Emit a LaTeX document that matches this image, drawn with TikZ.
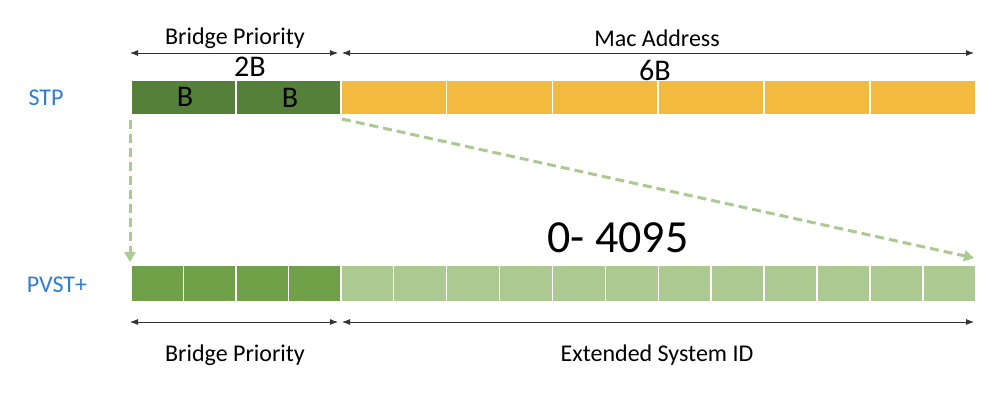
\documentclass[tikz,border=0pt]{standalone}
\usepackage{fontspec}
\setmainfont{Carlito}
\usetikzlibrary{arrows.meta}

\definecolor{stpgreen}{HTML}{55803A}
\definecolor{macyellow}{HTML}{F3BA40}
\definecolor{prigreen}{HTML}{70A148}
\definecolor{extgreen}{HTML}{ABC990}
\definecolor{rowblue}{HTML}{2F7CD3}

\begin{document}
\begin{tikzpicture}[x=1pt,y=-1pt]

\tikzset{cell/.style = {draw=white, line width=1.5pt, inner sep=0pt, anchor=west}}
\tikzset{stpcell/.style = {cell, minimum height=35pt}}
\tikzset{pvstcell/.style = {cell, minimum height=37pt}}
\tikzset{rowlabel/.style = {text=rowblue, font=\fontsize{24}{28}\selectfont}}
\tikzset{fieldlabel/.style = {font=\fontsize{24}{28}\selectfont}}
\tikzset{note/.style = {font=\fontsize{30}{32}\selectfont}}
\tikzset{dim/.style = {{Latex[length=8pt,width=6pt]}-{Latex[length=8pt,width=6pt]}, line width=0.8pt, draw=black!80}}
\tikzset{move/.style = {-{Triangle[length=10pt,width=11pt]}, dash pattern=on 9pt off 5pt, line width=3pt, draw=extgreen}}

\useasboundingbox (0,0) rectangle (1000,408);

% STP
\node[stpcell, fill=stpgreen, minimum width=105pt] (s1) at (130,97.5) {};
\node[stpcell, fill=stpgreen, minimum width=105pt] (s2) at (235,97.5) {};
\foreach \i in {0,...,5}
  \node[stpcell, fill=macyellow, minimum width=105.8pt] (m\i) at (340+105.8*\i,97.5) {};

% PVST+
\foreach \i in {0,...,3}
  \node[pvstcell, fill=prigreen, minimum width=52.5pt] (p\i) at (130+52.5*\i,283.5) {};
\foreach \i in {0,...,11}
  \node[pvstcell, fill=extgreen, minimum width=52.92pt] (e\i) at (340+52.92*\i,283.5) {};

% labels
\node[rowlabel] (stp) at (46,98) {STP};
\node[rowlabel] (pvst) at (57,285) {PVST+};
\node[fieldlabel] (bptop) at (235,38) {Bridge Priority};
\node[fieldlabel] (mac) at (657,38) {Mac Address};
\node[fieldlabel] (bpbot) at (235,355) {Bridge Priority};
\node[fieldlabel] (ext) at (657,355) {Extended System ID};

% notes
\node[note] (twob) at (250,67) {2B};
\node[note] (sixb) at (655,70) {6B};
\node[note] (b1) at (185,97) {B};
\node[note] (b2) at (290,98) {B};
\node[font=\fontsize{46}{50}\selectfont] (range) at (618,238) {0- 4095};

% dimensions
\coordinate (ta) at (130,53);
\coordinate (tb) at (338,53);
\coordinate (tc) at (342,53);
\coordinate (td) at (974,53);
\coordinate (ba) at (130,322);
\coordinate (bb) at (338,322);
\coordinate (bc) at (342,322);
\coordinate (bd) at (974,322);
\draw[dim] (ta) -- (tb);
\draw[dim] (tc) -- (td);
\draw[dim] (ba) -- (bb);
\draw[dim] (bc) -- (bd);

% moves
\coordinate (la) at (130,120);
\coordinate (lb) at (130,262);
\coordinate (ra) at (342,119);
\coordinate (rb) at (974,258);
\draw[move] (la) -- (lb);
\draw[move] (ra) -- (rb);

\end{tikzpicture}
\end{document}
